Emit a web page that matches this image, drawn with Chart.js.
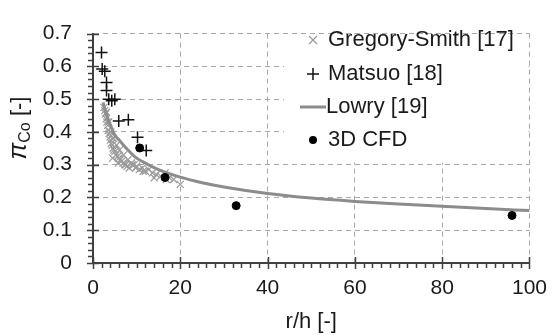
<!DOCTYPE html>
<html>
<head>
<meta charset="utf-8">
<script src="https://cdn.jsdelivr.net/npm/chart.js@4/dist/chart.umd.min.js"></script>
<style>
  body { margin: 0; background: #fff; }
</style>
</head>
<body>
<canvas id="myChart" width="560" height="335"></canvas>
<script>
// Gregory-Smith [17]
const gsX = [2.5, 2.7, 2.9, 3.0, 3.2, 3.4, 3.5, 3.7, 3.9, 4.0, 4.2, 4.4, 4.6, 4.8, 5.0, 5.3, 5.6, 5.9, 6.2, 6.5, 6.9, 7.3, 7.8, 8.3, 8.8, 9.4, 10.0, 10.6, 11.3, 12.0, 12.8, 13.6, 14.5, 15.5, 16.5, 17.5, 18.5, 20.0,
  3.1, 3.6, 4.1, 4.7, 5.4, 6.1, 7.0, 8.0, 9.0, 4.5, 5.8, 7.5, 9.8, 11.5, 14.0, 16.8];
const gsY = [0.475, 0.465, 0.455, 0.44, 0.43, 0.42, 0.405, 0.395, 0.385, 0.375, 0.365, 0.36, 0.35, 0.345, 0.34, 0.33, 0.325, 0.32, 0.315, 0.31, 0.305, 0.30, 0.295, 0.29, 0.305, 0.30, 0.295, 0.285, 0.29, 0.28, 0.285, 0.275, 0.27, 0.265, 0.275, 0.26, 0.255, 0.24,
  0.46, 0.43, 0.40, 0.38, 0.36, 0.345, 0.33, 0.315, 0.30, 0.32, 0.305, 0.30, 0.29, 0.28, 0.26, 0.255];

// Matsuo [18]
const matsuoX = [1.95, 2.1, 2.7, 3.1, 3.1, 3.6, 4.3, 5.0, 5.9, 8.1, 10.2, 12.2];
const matsuoY = [0.642, 0.592, 0.585, 0.551, 0.526, 0.50, 0.495, 0.50, 0.433, 0.437, 0.384, 0.343];

// Lowry [19]
const lowryX = [2.3, 3, 4, 5, 6, 8, 10, 12, 15, 20, 25, 30, 40, 50, 60, 70, 80, 90, 100];
const lowryY = [0.49, 0.455, 0.42, 0.39, 0.375, 0.345, 0.32, 0.305, 0.285, 0.262, 0.245, 0.232, 0.212, 0.198, 0.188, 0.18, 0.173, 0.166, 0.16];

// 3D CFD
const cfdX = [10.7, 16.5, 32.8, 96.0];
const cfdY = [0.351, 0.261, 0.175, 0.145];

const xTicks = [0, 20, 40, 60, 80, 100];
const yTicks = [0, 0.1, 0.2, 0.3, 0.4, 0.5, 0.6, 0.7];

const FONT = "'Liberation Sans', Arial, sans-serif";
const TXT = "#1a1a1a";
const AXIS = "#404040";

function pts(xs, ys) {
  return xs.map((x, i) => ({ x: x, y: ys[i] }));
}

// minor ticks, axis titles and legend
const extras = {
  id: "extras",
  afterDraw(chart) {
    const { ctx, chartArea: { left, right, top, bottom }, scales: { x, y } } = chart;
    ctx.save();
    ctx.strokeStyle = AXIS;
    ctx.lineWidth = 1.5;
    ctx.beginPath();
    for (let i = 0; i <= 50; i++) {
      const px = Math.round(x.getPixelForValue(i * 2)) + 0.5;
      if (i % 10 === 0) {
        ctx.moveTo(px, bottom - 6);
        ctx.lineTo(px, bottom + 6);
      } else {
        ctx.moveTo(px, bottom);
        ctx.lineTo(px, bottom + 5);
      }
    }
    for (let i = 0; i <= 35; i++) {
      const py = Math.round(y.getPixelForValue(i * 0.02)) + 0.5;
      if (i % 5 === 0) {
        ctx.moveTo(left - 6, py);
        ctx.lineTo(left + 6, py);
      } else {
        ctx.moveTo(left - 5, py);
        ctx.lineTo(left, py);
      }
    }
    ctx.stroke();

    // x title
    ctx.fillStyle = TXT;
    ctx.font = "22px " + FONT;
    ctx.textAlign = "center";
    ctx.textBaseline = "alphabetic";
    ctx.fillText("r/h [-]", (left + right) / 2, 328);

    // y title with subscript
    ctx.save();
    ctx.translate(26, 128);
    ctx.rotate(-Math.PI / 2);
    ctx.textAlign = "left";
    const bigF = "italic 25px " + FONT;
    const smallF = "16px " + FONT;
    const normF = "22px " + FONT;
    ctx.font = bigF;
    const w1 = ctx.measureText("π").width;
    ctx.font = smallF;
    const w2 = ctx.measureText("Co").width;
    ctx.font = normF;
    const w3 = ctx.measureText(" [-]").width;
    let cx = -(w1 + w2 + w3) / 2;
    ctx.font = bigF;
    ctx.fillText("π", cx, 0);
    cx += w1;
    ctx.font = smallF;
    ctx.fillText("Co", cx, 4);
    cx += w2;
    ctx.font = normF;
    ctx.fillText(" [-]", cx, 0);
    ctx.restore();

    // legend box inside plot
    ctx.fillStyle = "#ffffff";
    ctx.fillRect(284, top + 1, right - 285, 128);
    const rows = [40, 74, 107, 140];
    const mx = 313;
    // Gregory-Smith
    ctx.strokeStyle = "#999999";
    ctx.lineWidth = 1.2;
    ctx.beginPath();
    ctx.moveTo(mx - 4, rows[0] - 4); ctx.lineTo(mx + 4, rows[0] + 4);
    ctx.moveTo(mx + 4, rows[0] - 4); ctx.lineTo(mx - 4, rows[0] + 4);
    ctx.stroke();
    // Matsuo
    ctx.strokeStyle = "#111111";
    ctx.lineWidth = 1.5;
    ctx.beginPath();
    ctx.moveTo(mx - 6, rows[1]); ctx.lineTo(mx + 6, rows[1]);
    ctx.moveTo(mx, rows[1] - 6); ctx.lineTo(mx, rows[1] + 6);
    ctx.stroke();
    // Lowry
    ctx.strokeStyle = "#8c8c8c";
    ctx.lineWidth = 3;
    ctx.beginPath();
    ctx.moveTo(300, rows[2]); ctx.lineTo(326, rows[2]);
    ctx.stroke();
    // CFD
    ctx.fillStyle = "#000000";
    ctx.beginPath();
    ctx.arc(mx, rows[3], 4, 0, Math.PI * 2);
    ctx.fill();

    ctx.fillStyle = TXT;
    ctx.font = "22px " + FONT;
    ctx.textAlign = "left";
    ctx.textBaseline = "middle";
    ctx.fillText("Gregory-Smith [17]", 328, rows[0]);
    ctx.fillText("Matsuo [18]", 328, rows[1]);
    ctx.fillText("Lowry [19]", 326, rows[2]);
    ctx.fillText("3D CFD", 328, rows[3]);
    ctx.restore();
  },
};

const data = {
  datasets: [
    {
      label: "3D CFD",
      data: pts(cfdX, cfdY),
      pointStyle: "circle",
      pointRadius: 4,
      backgroundColor: "#000000",
      borderColor: "#000000",
      order: 0,
    },
    {
      label: "Matsuo [18]",
      data: pts(matsuoX, matsuoY),
      pointStyle: "cross",
      pointRadius: 6,
      pointBorderWidth: 1.5,
      borderColor: "#111111",
      backgroundColor: "#111111",
      order: 1,
    },
    {
      label: "Lowry [19]",
      data: pts(lowryX, lowryY),
      showLine: true,
      pointRadius: 0,
      borderColor: "#8c8c8c",
      borderWidth: 3,
      cubicInterpolationMode: "monotone",
      order: 2,
    },
    {
      label: "Gregory-Smith [17]",
      data: pts(gsX, gsY),
      pointStyle: "crossRot",
      pointRadius: 5,
      pointBorderWidth: 1.2,
      borderColor: "#9a9a9a",
      backgroundColor: "#9a9a9a",
      order: 3,
    },
  ],
};

const config = {
  type: "scatter",
  data: data,
  options: {
    responsive: false,
    animation: false,
    devicePixelRatio: 1,
    layout: {
      padding: { left: 0, top: 22, right: 21, bottom: 0 },
    },
    plugins: {
      legend: { display: false },
      tooltip: { enabled: false },
    },
    scales: {
      x: {
        type: "linear",
        min: 0,
        max: 100,
        afterFit: (s) => { s.height = 72; },
        afterBuildTicks: (s) => { s.ticks = xTicks.map((v) => ({ value: v })); },
        ticks: {
          color: TXT,
          font: { size: 21, family: FONT },
          padding: 13,
          maxRotation: 0,
        },
        grid: { color: "#a8a8a8", lineWidth: 1, drawTicks: false },
        border: { display: true, color: AXIS, width: 2, dash: [5, 4] },
      },
      y: {
        min: 0,
        max: 0.7,
        afterFit: (s) => { s.width = 93; },
        afterBuildTicks: (s) => { s.ticks = yTicks.map((v) => ({ value: v })); },
        ticks: {
          color: TXT,
          font: { size: 21, family: FONT },
          padding: 21,
          callback: (v) => (v === 0 ? "0" : v.toFixed(1)),
        },
        grid: { color: "#a8a8a8", lineWidth: 1, drawTicks: false },
        border: { display: true, color: AXIS, width: 2, dash: [5, 4] },
      },
    },
  },
  plugins: [extras],
};

const myChart = new Chart(document.getElementById("myChart"), config);
</script>
</body>
</html>
